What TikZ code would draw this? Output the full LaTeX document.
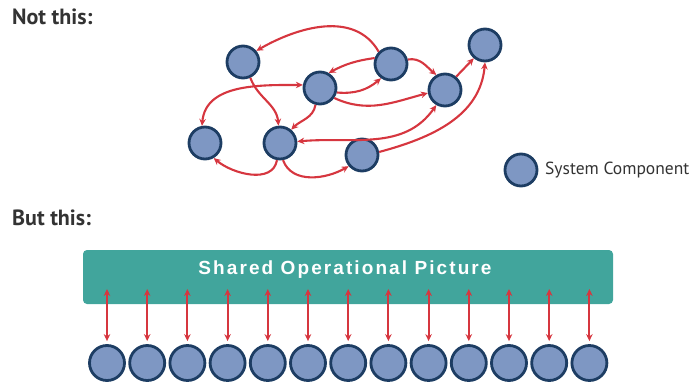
\documentclass[tikz,border=0pt]{standalone}
\usepackage{fontspec}
\setmainfont{PT Sans}
\newfontfamily\boxfont[LetterSpace=11]{Liberation Sans}
\usetikzlibrary{arrows.meta}
\definecolor{compfill}{HTML}{7E97C3}
\definecolor{compline}{HTML}{1D3D63}
\definecolor{arr}{HTML}{D6363F}
\definecolor{boxteal}{HTML}{41A59C}
\definecolor{headgray}{HTML}{333333}
\begin{document}
\begin{tikzpicture}[x=1pt,y=1pt,
  comp/.style={circle, draw=compline, fill=compfill, line width=2.8pt, minimum size=32pt, inner sep=0pt},
  bcomp/.style={comp, minimum size=35pt},
  tip/.tip={Stealth[length=7pt,width=6.5pt]},
  link/.style={draw=arr, line width=2.1pt, -tip},
  dlink/.style={draw=arr, line width=2.1pt, tip-tip},
  head/.style={anchor=west, inner sep=0pt, text=headgray, font=\bfseries\fontsize{22}{22}\selectfont},
  legend/.style={anchor=west, inner sep=0pt, text=headgray, font=\fontsize{17.5}{17.5}\selectfont},
  sopbox/.style={rectangle, rounded corners=4pt, fill=boxteal, minimum width=530pt, minimum height=54pt, inner sep=0pt},
  soptext/.style={text=white, inner sep=0pt, font=\boxfont\bfseries\fontsize{19}{19}\selectfont},
]
\useasboundingbox (0,0) rectangle (694,384);
% headings
\node[head] (nt) at (12,367) {Not this:};
\node[head] (bt) at (12,166) {But this:};
% top components
\node[comp] (A) at (243,322) {};
\node[comp] (B) at (320,296) {};
\node[comp] (C) at (391,320) {};
\node[comp] (D) at (445,294) {};
\node[comp] (E) at (485,339) {};
\node[comp] (F) at (205,241) {};
\node[comp] (G) at (280,241) {};
\node[comp] (H) at (362,229) {};
% legend
\node[comp] (L) at (521,214) {};
\node[legend] (lt) at (545,214) {System Component};
% tangled connectors
\draw[link] (C.135) to[out=120,in=30] (A.40);
\draw[link] (C.15) to[out=10,in=140] (D.120);
\draw[link] (C.160) to[bend right=10] (B.60);
\draw[link] (B.-15) to[out=-5,in=-140] (C.-125);
\draw[link] (B.-35) to[out=-25,in=195] (D.190);
\draw[link] (D.50) -- (E.230);
\draw[link] (H.10) to[out=15,in=-95] (E.-90);
\draw[dlink] (G.5) to[out=5,in=-125] (D.-120);
\draw[link] (B.-105) to[out=-100,in=45] (G.50);
\draw[link] (A.-65) to[out=-70,in=95] (G.95);
\draw[dlink] (F.100) to[out=85,in=180] (B.170);
\draw[link] (G.-100) to[out=-100,in=-40] (F.-60);
\draw[link] (G.-80) to[out=-70,in=-150] (H.-140);
% shared picture
\node[sopbox] (sop) at (348,107) {};
\node[soptext] (st) at (345,114) {Shared Operational Picture};
\foreach \i in {0,...,12}{
  \pgfmathsetmacro{\xx}{107+40.2*\i}
  \coordinate (t\i) at (\xx,95);
  \node[bcomp] (c\i) at (\xx,21) {};
  \draw[dlink, shorten >=3pt] (t\i) -- (c\i.north);
}
\end{tikzpicture}
\end{document}
